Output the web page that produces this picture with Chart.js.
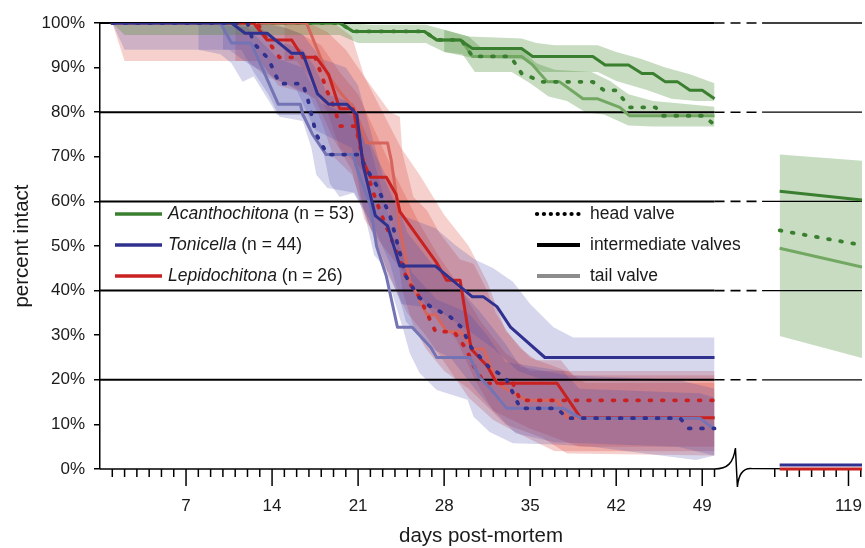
<!DOCTYPE html>
<html>
<head>
<meta charset="utf-8">
<script src="https://cdn.jsdelivr.net/npm/chart.js@4.4.1/dist/chart.umd.min.js"></script>
<style>
  html, body { margin: 0; padding: 0; background: #fff; }
</style>
</head>
<body>
<canvas id="chart" width="865" height="548"></canvas>
<script>
// taxa and valves
const taxa = ["Acanthochitona", "Tonicella", "Lepidochitona"];
const sampleSizes = [53, 44, 26];
const valves = ["head valve", "intermediate valves", "tail valve"];
const xTickDays = [7, 14, 21, 28, 35, 42, 49, 119];

// [day, percent intact]
const acanInt = [[1,100],[19.5,100],[20.6,98.1],[26.4,98.1],[27.4,96.2],[29.3,96.2],[30.3,94.3],[34.3,94.3],[35.2,92.5],[40.1,92.5],[41.1,90.6],[43,90.6],[44.1,88.7],[45,88.7],[46,86.8],[47,86.8],[48,84.9],[49,84.9],[50,83]];
const acanHead = [[1,100],[19.5,100],[20.6,98.1],[26.4,98.1],[27.4,96.2],[29.4,96.2],[30.3,92.5],[33.4,92.5],[34.3,88.7],[36,86.8],[40.1,86.8],[41,84.9],[42,84.9],[43.1,81.1],[45.2,81.1],[45.8,79.2],[49.1,79.2],[49.9,77.4]];
const acanTail = [[1,100],[19.5,100],[20.6,98.1],[26.4,98.1],[27.4,96.2],[29.4,96.2],[30.3,92.5],[34.3,92.5],[35.2,90.6],[36.4,86.8],[37.4,86.8],[39.3,83],[40.5,83],[42.3,81.1],[43.1,79.2],[50,79.2]];
const acanIntHi = [[1,100],[20,100],[22,99.6],[26.5,99.6],[28,98.5],[30,97],[34.3,96.5],[35.5,95.5],[37,95],[40.5,95],[42,93.5],[44,92],[46,90],[48,88.5],[50,86.5]];
const acanIntLo = [[1,100],[2,97.3],[19.5,97.3],[21,95.5],[26.5,95.5],[28,93.5],[30.3,92.2],[34.5,91.8],[36,89],[40.5,89],[42,87],[44.5,85],[46.5,83],[48.5,82.5],[50,82.5]];
const acanTailHi = [[28,98.5],[30,97],[31,94.5],[34.3,94],[35.5,91],[37,89.5],[40,89],[41.5,87],[43,84],[45,82.5],[47,82],[50,81.2]];
const acanTailLo = [[28,93.5],[29.5,93],[30.5,89],[33.5,89],[35,86.5],[36.5,83.5],[38,82.5],[39.5,80],[41,79.5],[43,77],[45,76.8],[50,76.8]];

const toniInt = [[1,100],[10.7,100],[11.8,97.7],[13.6,97.7],[15.6,93.2],[16.5,93.2],[17.7,84.1],[18.6,81.8],[20.1,81.8],[20.9,79.5],[21.4,68.2],[22.4,56.8],[23.4,54.5],[24.4,45.5],[27.3,45.5],[30.3,38.6],[31.2,38.6],[32.3,36.4],[33.4,31.8],[36.2,25],[50,25]];
const toniHead = [[1,100],[12,100],[12.5,95.5],[13.7,92],[14.6,86.4],[16.5,86.4],[16.9,83],[17.2,79.5],[17.6,75],[18.5,70.5],[21.1,70.5],[21.5,68.2],[22.5,63.6],[23.6,56.8],[24.9,43.2],[25.9,38.6],[26.9,36.4],[28.5,34.1],[29.4,31.8],[30.2,27.3],[31.7,22.7],[33,20.5],[33.8,15.9],[34.2,13.6],[37.2,13.6],[38,11.4],[47.2,11.4],[47.9,9.1],[50,9.1]];
const toniTail = [[1,100],[9.8,100],[10.7,95.5],[12.3,95.5],[14.5,81.8],[16.3,81.8],[16.5,79.5],[17.3,75],[18.4,70.5],[20.6,70.5],[20.8,68.2],[22,59.1],[22.5,50],[23.3,43.2],[24.2,31.8],[25.4,31.8],[26.9,27.3],[27.4,25],[30.1,25],[30.9,20.5],[31.7,18.2],[33.1,13.6],[37.7,13.6],[39.1,11.4],[48.8,11.4],[49.9,9.1]];
const toniIntHi = [[1,100],[13,100],[15,99],[16.5,97.5],[18,92],[20,90],[21,86],[22,76],[23,66],[24.4,57],[27.3,54],[29,50],[30.5,47],[32,45],[33.6,42],[35,37],[36.9,31.8],[38.5,29.5],[50,29.5]];
const toniIntLo = [[1,100],[2,94],[10.5,94],[12,91],[14,88],[16,85],[17.5,76],[19,74],[20.5,72],[21.3,60],[22.3,48],[23.5,44],[24.5,37],[27.3,36],[30,31],[32,27],[34,22],[36,20],[50,20]];
const toniHeadHi = [[10,100],[13,99],[14.5,96],[16.5,94],[17.5,90],[18.5,84],[20.6,82],[21.5,76],[22.5,70],[23.6,64],[25,53],[27,46],[29.4,40],[31,35],[33,28],[34.2,23],[38,21],[47,20],[50,18]];
const toniHeadLo = [[10,94],[11.5,94],[12.5,89],[13.7,84],[14.6,79],[16.5,78],[17.2,72],[17.6,66],[18.5,63],[20.6,62],[21.5,58],[22.5,53],[23.6,46],[24.9,33],[26.9,27],[28.5,25],[30.2,19],[31.7,14],[33.8,8],[37,6],[47,5],[50,3]];
const toniTailHi = [[8,100],[12,99],[14.5,92],[16.5,90],[18,82],[20.7,79],[22,72],[23,62],[24,52],[25.4,44],[27.4,38],[30,35],[31.5,30],[33,24],[37.7,22],[39,18],[48.8,17],[50,16]];
const toniTailLo = [[8,94],[9.8,93],[10.7,91],[11.6,86.8],[12.5,88],[13.8,82.3],[14.4,79.4],[16.3,79.4],[17.3,76],[18.2,70.8],[18.7,64],[19.5,61],[20.7,62],[21.4,58],[22.5,51],[23.3,45],[23.6,41],[24.7,31],[25.2,26],[26,21.5],[27.4,17.7],[29.9,15.5],[30.4,11.7],[31.7,8.3],[33.6,5.8],[37,5.5],[40,5],[48.5,2],[50,3]];

const lepiInt = [[1,100],[12.5,100],[13.6,96.2],[15.6,96.2],[16.5,92.3],[17.6,92.3],[18.6,88.5],[19.5,80.8],[20.6,80.8],[21.4,69.2],[22,65.4],[23.3,65.4],[24.1,61.5],[24.4,57.7],[27.4,46.2],[28.2,42.3],[29.3,42.3],[30.2,26.9],[31.5,23.1],[32.3,19.2],[37.2,19.2],[39.1,11.5],[50,11.5]];
const lepiHead = [[1,100],[12.8,100],[13.6,96.2],[14.6,92.3],[17.5,92.3],[18,88.5],[18.5,84.6],[19.1,80.8],[19.5,76.9],[20.8,76.9],[21.4,69.2],[22.3,61.5],[22.8,57.7],[24.5,46.2],[25,42.3],[26,38.5],[27.3,30.8],[28.8,30.8],[29.8,26.9],[30.4,23.1],[31.3,19.2],[33.6,19.2],[34.2,15.4],[50,15.4]];
const lepiTail = [[1,100],[16.8,100],[18.5,88.5],[19.5,84.6],[20.7,80.8],[21.7,73.1],[23.4,73.1],[23.7,69.2],[24.1,61.5],[24.4,53.8],[25.2,42.3],[26.6,34.6],[27.3,34.6],[28.2,30.8],[29.3,30.8],[30.4,26.9],[31.2,26.9],[32.3,19.2],[34.7,15.4],[37.2,15.4],[38,11.5],[50,11.5]];
const lepiIntHi = [[1,100],[17,100],[18.5,98],[20,94],[21.5,88],[23,80],[24.5,72],[26,66],[28,57],[30,50],[31.5,42],[33,31],[35,25],[38,22],[39.5,19.3],[50,19.3]];
const lepiIntLo = [[1,100],[2,91.5],[12,91.5],[13.5,88],[15.5,86],[17.5,83],[19,74],[20.5,67],[21.5,56],[23,50],[25,43],[27,35],[29,29],[30.5,20],[32,13],[35,9],[39,5],[50,5]];
const lepiHeadHi = [[11,100],[14,100],[16,98],[18,95],[19.5,89],[21,84],[22.5,75],[24,66],[26,55],[27.5,48],[29,42],[31,33],[33,26],[35,22],[50,22]];
const lepiHeadLo = [[11,91.5],[13,91.5],[14.5,86],[17,84],[18,78],[19,70],[20.5,66],[21.5,58],[23,46],[25,35],[26.5,30],[28,24],[30,16],[32,11],[34,8],[37,4],[50,4]];
const lepiTailHi = [[15,100],[19,100],[20.5,97],[21.5,88],[23.6,80],[24.4,79],[24.6,71],[25.5,61],[26.6,58],[27.6,53],[29.3,47],[30.4,46],[31.5,40],[32.2,35],[33.1,31],[34.2,27],[35.5,24.4],[37.5,24.4],[38.5,21],[50,21]];
const lepiTailLo = [[15,91.5],[16,91.5],[17,88],[18.5,80],[19.5,72],[21,68],[22.3,64],[23.3,60],[24,52],[24.6,40],[25.5,32],[26.5,27],[28,22],[30,18],[31.5,14],[33,10],[36,7],[38,3.5],[50,3]];

// day ~113-120 segment after the axis break
const acanIntLate = [[113.4,62.3],[120.1,60.3]];
const acanHeadLate = [[113.4,53.5],[120.1,50.2]];
const acanTailLate = [[113.4,49.5],[120.1,45.3]];
const acanLateHi = [[113.4,70.5],[120.1,69.1]];
const acanLateLo = [[113.4,29.8],[120.1,24.9]];
const toniLate = [[113.4,0.9],[120.1,0.9]];
const lepiLate = [[113.4,0],[120.1,0]];

const gridLevels = [20, 40, 60, 80, 100];

const green = "#3a7f2f", greenLight = "#72a862";
const blue = "#30308f", blueLight = "#7474b4";
const red = "#c92020", redLight = "#d6655e";
const greenBand = "rgba(70,140,50,0.30)";
const blueBand = "rgba(70,70,170,0.22)";
const redBand = "rgba(215,50,40,0.23)";
const FONT = "'Liberation Sans', Arial, Helvetica, sans-serif";

// broken axis: late days are shifted left
const toAxis = d => d > 100 ? d - 58.1 : d;
const pts = arr => arr.map(([d, v]) => ({ x: toAxis(d), y: v }));

function line(data, color, dotted) {
  return {
    data: pts(data), borderColor: color,
    borderWidth: dotted ? 3.8 : 3,
    borderDash: dotted ? [1.8, 10.5] : [],
    borderCapStyle: dotted ? "round" : "butt",
    borderJoinStyle: "round",
    pointRadius: 0, fill: false, tension: 0
  };
}
function band(hi, lo, color) {
  return [
    { data: pts(hi), borderWidth: 0, borderColor: "transparent", pointRadius: 0, fill: false },
    { data: pts(lo), borderWidth: 0, borderColor: "transparent", pointRadius: 0, fill: "-1", backgroundColor: color }
  ];
}

const datasets = [
  line(toniHead, blue, true), line(toniInt, blue), line(toniTail, blueLight),
  line(lepiHead, red, true), line(lepiInt, red), line(lepiTail, redLight),
  line(acanHead, green, true), line(acanInt, green), line(acanTail, greenLight),
  line(acanHeadLate, green, true), line(acanIntLate, green), line(acanTailLate, greenLight),
  line(toniLate, blue), Object.assign(line(lepiLate, red), { clip: 4 }),
  ...band(acanIntHi, acanIntLo, greenBand),
  ...band(acanTailHi, acanTailLo, greenBand),
  ...band(acanLateHi, acanLateLo, greenBand),
  ...band(toniIntHi, toniIntLo, blueBand),
  ...band(toniHeadHi, toniHeadLo, blueBand),
  ...band(toniTailHi, toniTailLo, blueBand),
  ...band(lepiIntHi, lepiIntLo, redBand),
  ...band(lepiHeadHi, lepiHeadLo, redBand),
  ...band(lepiTailHi, lepiTailLo, redBand)
];

// gridlines, broken x axis, ticks and the two legends
const frame = {
  id: "frame",
  beforeDatasetsDraw(chart) {
    const { ctx, scales: { x, y } } = chart;
    const px = v => x.getPixelForValue(v);
    const x0 = px(0), x50 = px(50), xb = px(53.87), xr = px(62);
    ctx.save();
    ctx.strokeStyle = "#000";
    gridLevels.forEach(v => {
      const py = y.getPixelForValue(v);
      ctx.lineWidth = 2; ctx.setLineDash([]);
      ctx.beginPath(); ctx.moveTo(x0, py); ctx.lineTo(x50, py); ctx.stroke();
      ctx.lineWidth = 1.6; ctx.setLineDash([10, 6]);
      ctx.beginPath(); ctx.moveTo(x50, py); ctx.lineTo(xb, py); ctx.stroke();
      ctx.lineWidth = 1.3; ctx.setLineDash([]);
      ctx.beginPath(); ctx.moveTo(xb, py); ctx.lineTo(xr, py); ctx.stroke();
    });
    const ay = y.getPixelForValue(0);
    const sx = px(51.7);
    ctx.lineWidth = 1.5;
    ctx.beginPath();
    ctx.moveTo(x0, ay); ctx.lineTo(x50, ay);
    ctx.bezierCurveTo(x50 + 13, ay, sx - 2, ay - 6, sx, ay - 21);
    ctx.lineTo(sx + 2, ay + 18);
    ctx.bezierCurveTo(sx + 3, ay + 6, sx + 7, ay - 1, sx + 16, ay - 0.5);
    ctx.lineTo(xr, ay);
    ctx.stroke();
    const ticks = [];
    for (let d = 1; d <= 50; d++) ticks.push(d);
    for (let d = 113; d <= 120; d++) ticks.push(d);
    ticks.forEach(d => {
      const tx = px(toAxis(d));
      const major = xTickDays.includes(d);
      ctx.beginPath(); ctx.moveTo(tx, ay); ctx.lineTo(tx, ay + (major ? 17 : 8)); ctx.stroke();
    });
    ctx.restore();
  },
  afterDatasetsDraw(chart) {
    const { ctx } = chart;
    ctx.save();
    ctx.textBaseline = "middle";
    ctx.fillStyle = "#1a1a1a";
    const colors = [green, blue, red];
    taxa.forEach((name, i) => {
      const ly = 214 + i * 31;
      ctx.strokeStyle = colors[i]; ctx.lineWidth = 3.5; ctx.setLineDash([]);
      ctx.beginPath(); ctx.moveTo(115, ly); ctx.lineTo(162, ly); ctx.stroke();
      ctx.font = "italic 17.5px " + FONT;
      ctx.fillText(name, 168, ly);
      const w = ctx.measureText(name).width;
      ctx.font = "17.5px " + FONT;
      ctx.fillText(" (n = " + sampleSizes[i] + ")", 168 + w, ly);
    });
    valves.forEach((name, i) => {
      const ly = 214 + i * 31;
      ctx.lineWidth = 4.2;
      if (i === 0) { ctx.strokeStyle = "#000"; ctx.setLineDash([0.1, 6.8]); ctx.lineCap = "round"; }
      else { ctx.strokeStyle = i === 1 ? "#000" : "#8c8c8c"; ctx.setLineDash([]); ctx.lineCap = "butt"; }
      ctx.beginPath(); ctx.moveTo(537, ly); ctx.lineTo(580, ly); ctx.stroke();
      ctx.font = "17.5px " + FONT;
      ctx.fillText(name, 590, ly);
    });
    ctx.restore();
  }
};

Chart.defaults.font.family = FONT;
Chart.defaults.color = "#1a1a1a";

new Chart(document.getElementById("chart"), {
  type: "line",
  data: { datasets },
  options: {
    responsive: false,
    animation: false,
    events: [],
    layout: { autoPadding: false, padding: { left: 0, right: 3, top: 23, bottom: 0 } },
    plugins: {
      legend: { display: false },
      tooltip: { enabled: false },
      filler: { drawTime: "beforeDatasetsDraw" }
    },
    scales: {
      x: {
        type: "linear", min: 0, max: 62,
        grid: { display: false, drawTicks: false },
        border: { display: false },
        afterBuildTicks: s => { s.ticks = xTickDays.map(d => ({ value: toAxis(d) })); },
        ticks: { autoSkip: false, maxRotation: 0, padding: 27, font: { size: 17 },
                 callback: (v, i) => String(xTickDays[i]) },
        title: { display: true, text: "days post-mortem", font: { size: 20.5 }, padding: { top: 0, bottom: -1 } },
        afterFit: s => { s.height = 79; s.paddingLeft = 0; s.paddingRight = 0; }
      },
      y: {
        min: 0, max: 100,
        ticks: { stepSize: 10, padding: 9, font: { size: 17 }, callback: v => v + "%" },
        grid: { drawOnChartArea: false, drawTicks: true, tickLength: 6, color: "#000", lineWidth: 1.5 },
        border: { display: true, color: "#000", width: 1.5 },
        title: { display: true, text: "percent intact", font: { size: 20.5 }, padding: { top: 10, bottom: 0 } },
        afterFit: s => { s.width = 100; s.paddingTop = 0; s.paddingBottom = 0; }
      }
    }
  },
  plugins: [frame]
});
</script>
</body>
</html>
